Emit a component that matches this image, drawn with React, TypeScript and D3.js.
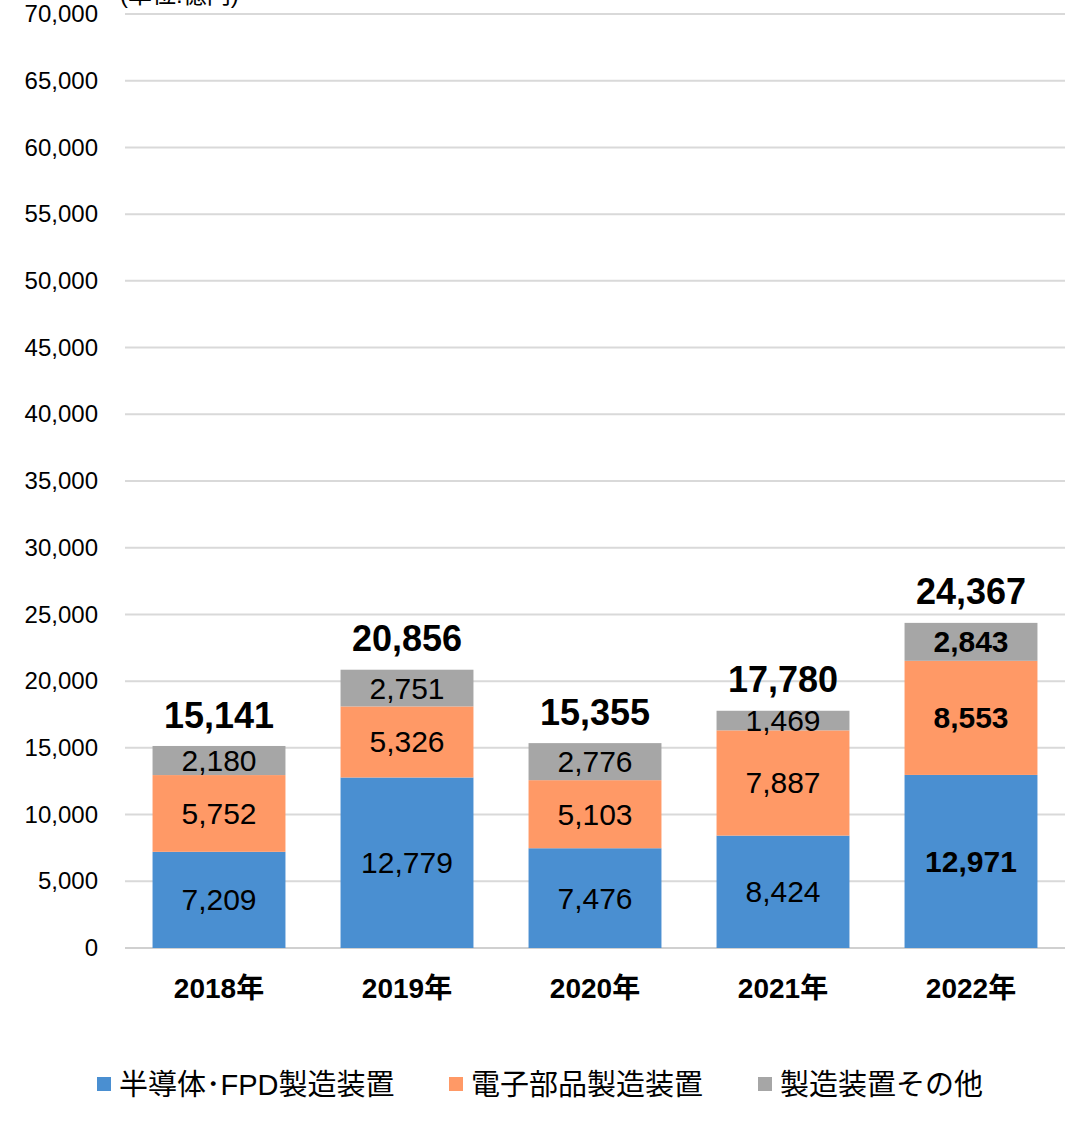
import React from "react";
import { select, scaleLinear, scaleBand, range, axisLeft, format } from "d3";

const years = ["2018年", "2019年", "2020年", "2021年", "2022年"];
const seriesNames = ["半導体･FPD製造装置", "電子部品製造装置", "製造装置その他"];
const semiconductor = [7209, 12779, 7476, 8424, 12971];
const electronic = [5752, 5326, 5103, 7887, 8553];
const others = [2180, 2751, 2776, 1469, 2843];
const totals = [15141, 20856, 15355, 17780, 24367];
const yTicks = range(0, 70001, 5000);
const colors = ["#4A8FD1", "#FF9966", "#A6A6A6"];
const unitLabel = "(単位:億円)";

const W = 1067;
const H = 1131;
const margin = { top: 14, right: 2, bottom: 183, left: 125 };
const FONT = "'Liberation Sans', Arial, 'Noto Sans CJK JP', sans-serif";

export default function App() {
  const svgRef = React.useRef<SVGSVGElement | null>(null);

  React.useEffect(() => {
    const svg = select(svgRef.current);
    svg.selectAll("*").remove();

    const y = scaleLinear()
      .domain([0, 70000])
      .range([H - margin.bottom, margin.top]);
    const x = scaleBand<string>()
      .domain(years)
      .range([margin.left, W - margin.right])
      .paddingInner(0.293)
      .paddingOuter(0.1465);

    // grid
    svg
      .append("g")
      .selectAll("line")
      .data(yTicks)
      .join("line")
      .attr("x1", margin.left)
      .attr("x2", W - margin.right)
      .attr("y1", (d) => y(d))
      .attr("y2", (d) => y(d))
      .attr("stroke", (d) => (d === 0 ? "#D0D0D0" : "#D9D9D9"))
      .attr("stroke-width", 2);

    // y axis labels
    const ax = svg
      .append("g")
      .attr("transform", `translate(${margin.left},0)`)
      .call(axisLeft(y).tickValues(yTicks).tickFormat(format(",")).tickSize(0).tickPadding(27));
    ax.select(".domain").remove();
    ax.selectAll("text")
      .attr("font-family", FONT)
      .attr("font-size", 24)
      .attr("fill", "#000");

    svg
      .append("text")
      .attr("x", 120)
      .attr("y", 3)
      .attr("font-family", FONT)
      .attr("font-size", 24)
      .text(unitLabel);

    const series = [semiconductor, electronic, others];
    series.forEach((vals, si) => {
      const base = vals.map((_, i) =>
        series.slice(0, si).reduce((s, arr) => s + arr[i], 0)
      );
      const g = svg.append("g");
      g.selectAll("rect")
        .data(vals)
        .join("rect")
        .attr("x", (_, i) => x(years[i])!)
        .attr("width", x.bandwidth())
        .attr("y", (d, i) => y(base[i] + d))
        .attr("height", (d, i) => y(base[i]) - y(base[i] + d))
        .attr("fill", colors[si]);
      g.selectAll("text")
        .data(vals)
        .join("text")
        .attr("x", (_, i) => x(years[i])! + x.bandwidth() / 2)
        .attr("y", (d, i) => y(base[i] + d / 2))
        .attr("dy", "0.35em")
        .attr("text-anchor", "middle")
        .attr("font-family", FONT)
        .attr("font-size", 30)
        .attr("font-weight", (_, i) => (i === 4 ? "bold" : "normal"))
        .attr("fill", "#000")
        .text((d) => format(",")(d));
    });

    // totals
    svg
      .append("g")
      .selectAll("text")
      .data(totals)
      .join("text")
      .attr("x", (_, i) => x(years[i])! + x.bandwidth() / 2)
      .attr("y", (d) => y(d) - 31)
      .attr("dy", "0.35em")
      .attr("text-anchor", "middle")
      .attr("font-family", FONT)
      .attr("font-size", 36)
      .attr("font-weight", "bold")
      .text((d) => format(",")(d));

    // x labels
    svg
      .append("g")
      .selectAll("text")
      .data(years)
      .join("text")
      .attr("x", (d) => x(d)! + x.bandwidth() / 2)
      .attr("y", 988)
      .attr("dy", "0.35em")
      .attr("text-anchor", "middle")
      .attr("font-family", FONT)
      .attr("font-size", 28)
      .attr("font-weight", "bold")
      .text((d) => d);

    // legend
    const legendX = [97, 449, 758];
    const lg = svg.append("g");
    seriesNames.forEach((name, i) => {
      lg.append("rect")
        .attr("x", legendX[i])
        .attr("y", 1077)
        .attr("width", 14)
        .attr("height", 14)
        .attr("fill", colors[i]);
      lg.append("text")
        .attr("x", legendX[i] + 22)
        .attr("y", 1085)
        .attr("dy", "0.35em")
        .attr("font-family", FONT)
        .attr("font-size", 29)
        .text(name);
    });
  }, []);

  return (
    <svg
      ref={svgRef}
      width={W}
      height={H}
      style={{ position: "absolute", left: 0, top: 0, background: "#fff" }}
    />
  );
}
